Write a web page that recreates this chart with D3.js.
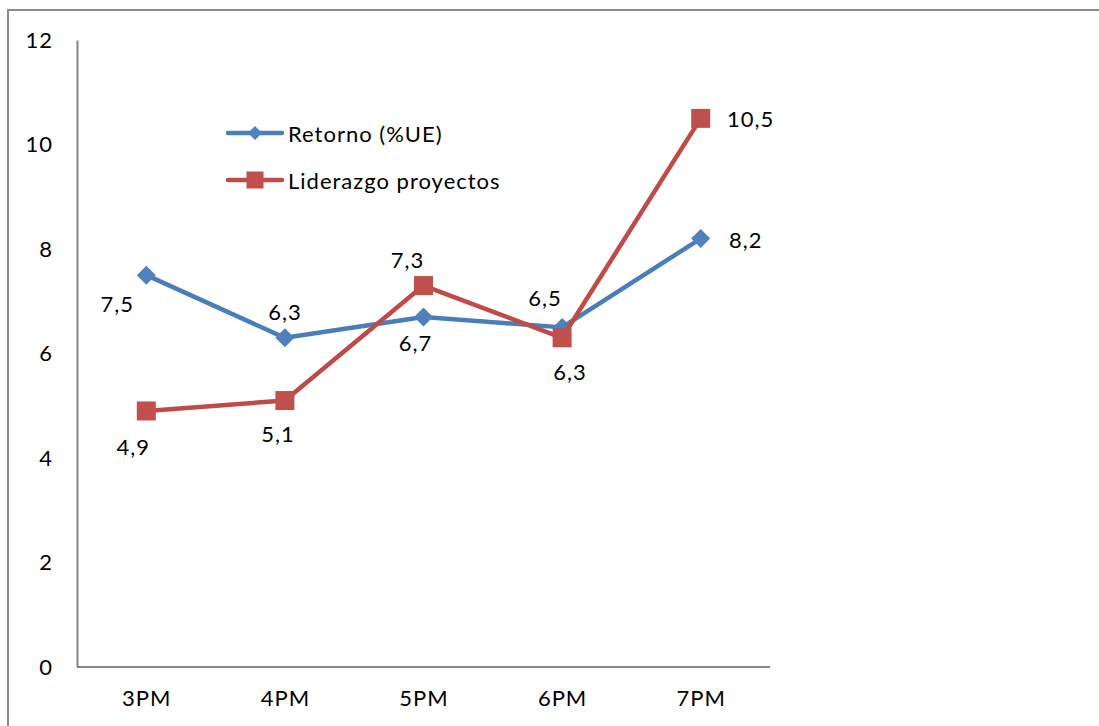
<!DOCTYPE html>
<html>
<head>
<meta charset="utf-8">
<script src="https://cdn.jsdelivr.net/npm/d3@7"></script>
<style>
  html, body { margin: 0; padding: 0; background: #fff; }
  svg { display: block; }
  text { font-family: Lato, "Open Sans", sans-serif; fill: #000; letter-spacing: 1px; }
</style>
</head>
<body>
<svg id="chart" width="1099" height="726"></svg>
<script>
// ---- data ----
const categories = ["3PM", "4PM", "5PM", "6PM", "7PM"];
const retorno = [7.5, 6.3, 6.7, 6.5, 8.2];
const liderazgo = [4.9, 5.1, 7.3, 6.3, 10.5];
const yTicks = [0, 2, 4, 6, 8, 10, 12];
const seriesNames = ["Retorno (%UE)", "Liderazgo proyectos"];

// ---- layout ----
const W = 1099, H = 726;
const plot = { left: 77, right: 770, top: 40, bottom: 667 };
const blueColor = "#4a7ebb", blueMarker = "#4f81bd";
const redColor = "#be4b48", redMarker = "#c0504d";
const axisColor = "#868686";
const fontSize = 22;
const fontFamily = "Lato, 'Open Sans', sans-serif";
// label nudges (text centre relative to point), layout only
const blueLabelNudge = [[-29, 28], [0, -26], [-8, 26], [-17, -30], [45, 1]];
const redLabelNudge = [[-13, 36], [-7, 33], [-16, -26], [8, 34], [50, 0]];

const svg = d3.select("#chart");

// outer frame
svg.append("rect")
  .attr("x", 8).attr("y", 10)
  .attr("width", W).attr("height", H)
  .attr("fill", "none").attr("stroke", "#8c8c8c").attr("stroke-width", 2);

const x = d3.scalePoint().domain(categories).range([plot.left, plot.right]).padding(0.5);
const y = d3.scaleLinear().domain([0, 12]).range([plot.bottom, plot.top]);

// y axis
const yAxis = svg.append("g").attr("transform", `translate(${plot.left},0)`)
  .call(d3.axisLeft(y).tickValues(yTicks).tickSize(0).tickPadding(24).tickFormat(d3.format("d")));
yAxis.select(".domain").attr("stroke", axisColor).attr("stroke-width", 2);
yAxis.selectAll("text").attr("font-size", fontSize).attr("font-family", fontFamily).attr("fill", "#000");

// x axis
const xAxis = svg.append("g").attr("transform", `translate(0,${plot.bottom})`)
  .call(d3.axisBottom(x).tickSize(0).tickPadding(23));
xAxis.select(".domain").attr("stroke", axisColor).attr("stroke-width", 2)
  .attr("d", `M${plot.left},0H${plot.right}`);
xAxis.selectAll("text").attr("font-size", fontSize).attr("font-family", fontFamily).attr("fill", "#000");

const line = d3.line().x((d, i) => x(categories[i])).y(d => y(d));

function diamond(g, cx, cy, r, fill) {
  g.append("path")
    .attr("d", `M${cx},${cy - r}L${cx + r},${cy}L${cx},${cy + r}L${cx - r},${cy}Z`)
    .attr("fill", fill);
}
function square(g, cx, cy, s, fill) {
  g.append("rect").attr("x", cx - s / 2).attr("y", cy - s / 2)
    .attr("width", s).attr("height", s).attr("fill", fill);
}

// blue series
const gb = svg.append("g");
gb.append("path").datum(retorno).attr("d", line)
  .attr("fill", "none").attr("stroke", blueColor).attr("stroke-width", 4.5)
  .attr("stroke-linejoin", "round").attr("stroke-linecap", "round");
retorno.forEach((v, i) => diamond(gb, x(categories[i]), y(v), 9.5, blueMarker));

// red series
const gr = svg.append("g");
gr.append("path").datum(liderazgo).attr("d", line)
  .attr("fill", "none").attr("stroke", redColor).attr("stroke-width", 4.5)
  .attr("stroke-linejoin", "round").attr("stroke-linecap", "round");
liderazgo.forEach((v, i) => square(gr, x(categories[i]), y(v), 19, redMarker));

// data labels
const fmt = v => d3.format(".1f")(v).replace(".", ",");
function labels(data, nudge) {
  svg.append("g").selectAll("text").data(data).join("text")
    .attr("x", (d, i) => x(categories[i]) + nudge[i][0])
    .attr("y", (d, i) => y(d) + nudge[i][1])
    .attr("text-anchor", "middle").attr("dominant-baseline", "central")
    .attr("font-size", fontSize).attr("font-family", fontFamily)
    .text(d => fmt(d));
}
labels(retorno, blueLabelNudge);
labels(liderazgo, redLabelNudge);

// legend
const lg = svg.append("g");
const legendRows = [
  { name: seriesNames[0], y: 133, color: blueColor, marker: "diamond", mfill: blueMarker },
  { name: seriesNames[1], y: 180, color: redColor, marker: "square", mfill: redMarker }
];
legendRows.forEach(r => {
  lg.append("line").attr("x1", 228).attr("x2", 282).attr("y1", r.y).attr("y2", r.y)
    .attr("stroke", r.color).attr("stroke-width", 4.5).attr("stroke-linecap", "round");
  if (r.marker === "diamond") diamond(lg, 255, r.y, 7, r.mfill);
  else square(lg, 255, r.y, 17, r.mfill);
  lg.append("text").attr("x", 288).attr("y", r.y).attr("dominant-baseline", "central")
    .attr("font-size", fontSize).attr("font-family", fontFamily).text(r.name);
});
</script>
</body>
</html>
